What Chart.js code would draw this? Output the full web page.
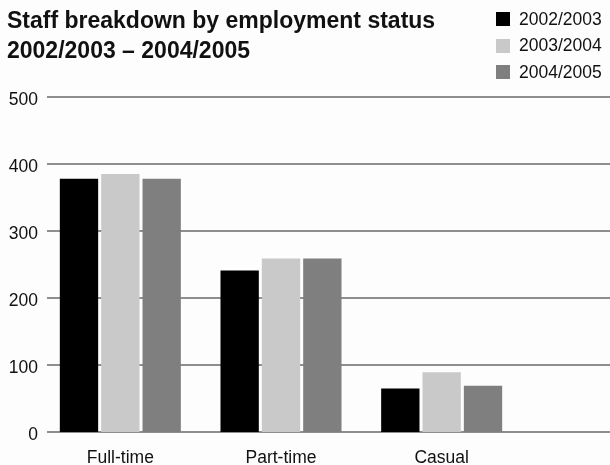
<!DOCTYPE html>
<html>
<head>
<meta charset="utf-8">
<script src="https://cdn.jsdelivr.net/npm/chart.js@4/dist/chart.umd.min.js"></script>
<style>
  body { margin: 0; background: #fdfdfd; font-family: 'Liberation Sans', Arial, sans-serif; color: #111; }
  #wrap { position: relative; width: 610px; height: 465px; }
  #title { position: absolute; left: 7px; top: 5px; font-weight: bold; font-size: 23px; line-height: 30px; }
  #legend { position: absolute; left: 496px; top: 6px; font-size: 17.5px; }
  .item { display: flex; align-items: center; height: 26.5px; }
  .box { width: 14px; height: 14px; margin-right: 9px; }
</style>
</head>
<body>
<div id="wrap">
  <canvas id="chart" width="610" height="465"></canvas>
  <div id="title">Staff breakdown by employment status<br>2002/2003 – 2004/2005</div>
  <div id="legend"></div>
</div>
<script>
// staff numbers per employment type, one array per year
const categories = ['Full-time', 'Part-time', 'Casual']
const years = ['2002/2003', '2003/2004', '2004/2005']
const staff0203 = [378, 241, 65]
const staff0304 = [385, 259, 89]
const staff0405 = [378, 259, 69]
const yTicks = [0, 100, 200, 300, 400, 500]

const colors = ['#000000', '#c9c9c9', '#7f7f7f']
const series = [staff0203, staff0304, staff0405]

// horizontal rules run past the plot to the right edge
const gridLines = {
  id: 'gridLines',
  beforeDatasetsDraw(chart) {
    const {ctx, chartArea, scales: {y}} = chart
    ctx.save()
    ctx.strokeStyle = '#8e8e8e'
    ctx.lineWidth = 2
    y.ticks.forEach(t => {
      const py = Math.round(y.getPixelForValue(t.value))
      ctx.beginPath()
      ctx.moveTo(chartArea.left + 7, py)
      ctx.lineTo(chart.width, py)
      ctx.stroke()
    })
    ctx.restore()
  }
}

const tickFont = { family: 'Liberation Sans', size: 17.5 }

const ctx = document.getElementById('chart').getContext('2d')
const chart = new Chart(ctx, {
  type: 'bar',
  data: {
    labels: categories,
    datasets: years.map((name, i) => ({
      label: name,
      data: series[i],
      backgroundColor: colors[i],
      borderWidth: 0
    }))
  },
  options: {
    responsive: false,
    animation: false,
    layout: { padding: { top: 97, right: 88, bottom: 0, left: 0 } },
    datasets: { bar: { categoryPercentage: 0.772, barPercentage: 0.927 } },
    plugins: { legend: { display: false }, tooltip: { enabled: false } },
    scales: {
      x: {
        grid: { display: false, drawTicks: false },
        border: { display: false },
        ticks: { color: '#111', font: tickFont, padding: 16 },
        afterFit(s) { s.height = 33 }
      },
      y: {
        min: 0,
        max: 500,
        afterBuildTicks(s) { s.ticks = yTicks.map(v => ({ value: v })) },
        grid: { display: false, drawTicks: false },
        border: { display: false },
        ticks: { color: '#111', font: tickFont, padding: 2, labelOffset: 3 },
        afterFit(s) { s.width = 40 }
      }
    }
  },
  plugins: [gridLines]
})

// legend boxes built from the same series names and colours
const legend = document.getElementById('legend')
years.forEach((name, i) => {
  const row = document.createElement('div'); row.className = 'item'
  const box = document.createElement('span'); box.className = 'box'; box.style.background = colors[i]
  const txt = document.createElement('span'); txt.textContent = name
  row.appendChild(box); row.appendChild(txt)
  legend.appendChild(row)
})
</script>
</body>
</html>
